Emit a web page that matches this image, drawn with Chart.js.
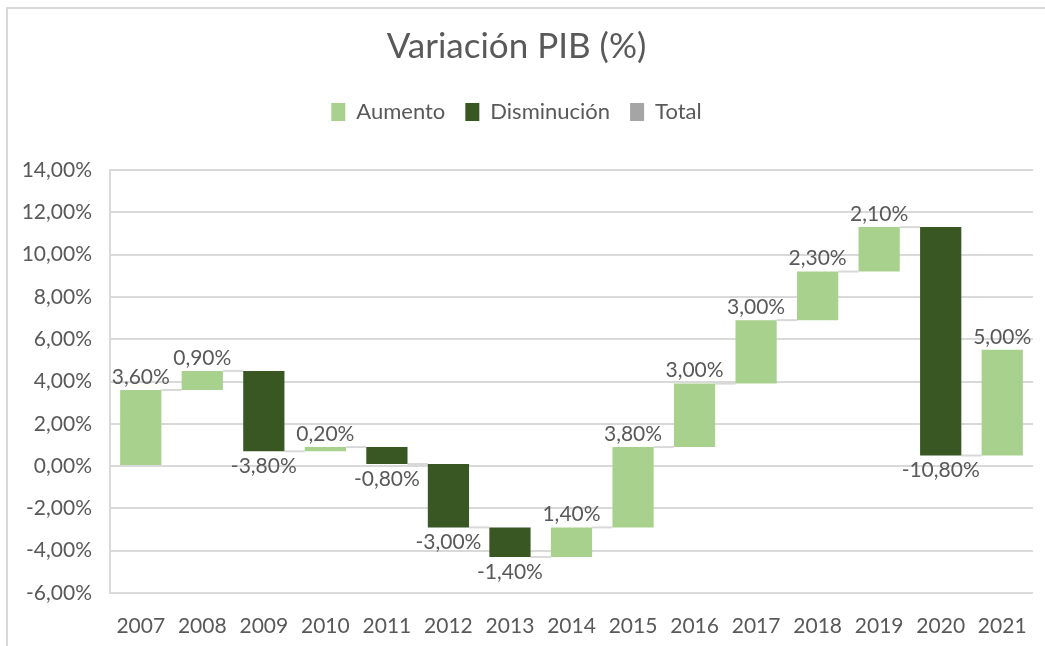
<!DOCTYPE html>
<html>
<head>
<meta charset="utf-8">
<script src="https://cdn.jsdelivr.net/npm/chart.js@4/dist/chart.umd.min.js"></script>
<style>
  html, body { margin: 0; padding: 0; background: #ffffff; overflow: hidden; }
  #wrap { position: relative; width: 1045px; height: 646px; }
  #frame { position: absolute; left: 6px; top: 7px; width: 1100px; height: 700px;
           border-left: 2px solid #d9d9d9; border-top: 2px solid #d9d9d9; pointer-events: none; }
  canvas { position: absolute; left: 0; top: 0; }
</style>
</head>
<body>
<div id="wrap">
  <canvas id="c" width="1045" height="646"></canvas>
  <div id="frame"></div>
</div>
<script>
// ---- data ----
const categories = ['2007','2008','2009','2010','2011','2012','2013','2014','2015','2016','2017','2018','2019','2020','2021'];
const variations = [3.6, 0.9, -3.8, 0.2, -0.8, -3.0, -1.4, 1.4, 3.8, 3.0, 3.0, 2.3, 2.1, -10.8, 5.0];
const seriesNames = ['Aumento', 'Disminución', 'Total'];
const yMin = -6, yMax = 14, yStep = 2;

// ---- styles ----
const COL_UP = '#A9D18E';
const COL_DOWN = '#385723';
const COL_TOTAL = '#A5A5A5';
const TXT = '#595959';
const GRID = '#d9d9d9';
const FONT = 'Lato';
const BAR_PCT = 0.67;

// waterfall ranges built from the variations
const starts = [], ends = [];
let run = 0;
variations.forEach(v => { starts.push(run); run += v; ends.push(run); });
const upData = variations.map((v, i) => v >= 0 ? [starts[i], ends[i]] : null);
const downData = variations.map((v, i) => v < 0 ? [starts[i], ends[i]] : null);
const totalData = variations.map(() => null);

const fmt = v => v.toFixed(2).replace('.', ',') + '%';

const connectorPlugin = {
  id: 'connectors',
  beforeDatasetsDraw(chart) {
    const x = chart.scales.x, y = chart.scales.y;
    const catW = x.width / categories.length;
    const half = catW * BAR_PCT / 2;
    const ctx = chart.ctx;
    ctx.save();
    ctx.strokeStyle = GRID;
    ctx.lineWidth = 2;
    for (let i = 0; i < categories.length - 1; i++) {
      const yy = y.getPixelForValue(ends[i]);
      ctx.beginPath();
      ctx.moveTo(x.getPixelForValue(i) + half, yy);
      ctx.lineTo(x.getPixelForValue(i + 1) - half, yy);
      ctx.stroke();
    }
    ctx.restore();
  }
};

const labelPlugin = {
  id: 'valueLabels',
  afterDatasetsDraw(chart) {
    const x = chart.scales.x, y = chart.scales.y;
    const ctx = chart.ctx;
    ctx.save();
    ctx.fillStyle = TXT;
    ctx.font = '21px ' + FONT;
    ctx.textAlign = 'center';
    ctx.textBaseline = 'middle';
    variations.forEach((v, i) => {
      const cx = x.getPixelForValue(i);
      if (v >= 0) {
        ctx.fillText(fmt(v), cx, y.getPixelForValue(ends[i]) - 13);
      } else {
        ctx.fillText(fmt(v), cx, y.getPixelForValue(ends[i]) + 15);
      }
    });
    ctx.restore();
  }
};

new Chart(document.getElementById('c'), {
  type: 'bar',
  data: {
    labels: categories,
    datasets: [
      { label: seriesNames[0], data: upData, backgroundColor: COL_UP, grouped: false },
      { label: seriesNames[1], data: downData, backgroundColor: COL_DOWN, grouped: false },
      { label: seriesNames[2], data: totalData, backgroundColor: COL_TOTAL, grouped: false }
    ]
  },
  options: {
    responsive: false,
    animation: false,
    devicePixelRatio: 1,
    layout: { padding: { left: 0, right: 12, top: 0, bottom: 0 } },
    datasets: { bar: { barPercentage: BAR_PCT, categoryPercentage: 1 } },
    plugins: {
      title: {
        display: true,
        text: 'Variación PIB (%)',
        color: TXT,
        font: { family: FONT, size: 35, weight: 'normal' },
        padding: { top: 26, bottom: 13 }
      },
      subtitle: {
        display: true,
        text: '',
        position: 'top',
        weight: 500,
        font: { family: FONT, size: 10 },
        padding: { top: 0, bottom: 25 }
      },
      legend: {
        display: true,
        position: 'top',
        labels: {
          color: TXT,
          font: { family: FONT, size: 22 },
          boxWidth: 14,
          boxHeight: 18,
          padding: 20
        }
      },
      tooltip: { enabled: false }
    },
    scales: {
      x: {
        grid: { display: false, drawTicks: false },
        border: { display: false },
        ticks: { color: TXT, font: { family: FONT, size: 21 }, padding: 21, maxRotation: 0 },
        afterFit(s) { s.height = 53; s.paddingLeft = 0; s.paddingRight = 0; }
      },
      y: {
        min: yMin, max: yMax,
        grid: { color: GRID, lineWidth: 2, drawTicks: false },
        border: { display: true, color: GRID, width: 2 },
        ticks: { stepSize: yStep, color: TXT, font: { family: FONT, size: 21 }, padding: 18,
                 callback: v => fmt(v) },
        afterFit(s) { s.width = 110; s.paddingTop = 170; }
      }
    }
  },
  plugins: [connectorPlugin, labelPlugin]
});
</script>
</body>
</html>
